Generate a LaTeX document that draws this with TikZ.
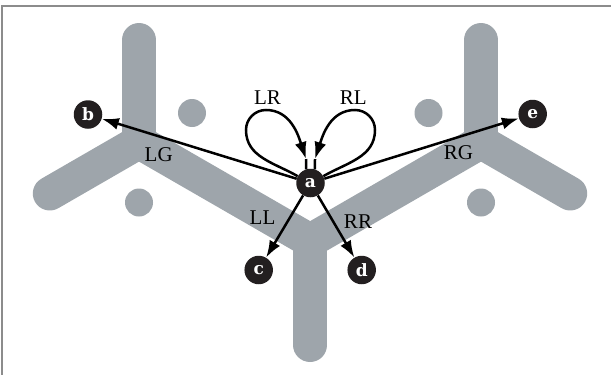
\documentclass[tikz,border=0pt]{standalone}
\usepackage{fontspec}
\setmainfont{Liberation Serif}
\newfontfamily\nodefont{DejaVu Serif}
\usetikzlibrary{arrows.meta}
\definecolor{trackgray}{RGB}{158,165,171}
\definecolor{nodeblack}{RGB}{35,31,32}
\definecolor{framegray}{RGB}{140,140,140}
\begin{document}
\begin{tikzpicture}[x=1pt,y=1pt,
  track/.style={draw=trackgray, line width=34pt, line cap=round},
  blob/.style={fill=trackgray},
  vert/.style={circle, fill=nodeblack, text=white, minimum size=28.5pt, inner sep=0pt,
    font=\nodefont\bfseries\fontsize{17}{17}\selectfont},
  wire/.style={draw=black, line width=2.5pt},
  conn/.style={wire, -{Latex[length=17pt,width=12pt]}},
  lab/.style={inner sep=0pt, font=\fontsize{21}{21}\selectfont}
]
\useasboundingbox (0,0) rectangle (611,-375);
% frame
\draw[framegray, line width=2pt] (1.7,-375) -- (1.7,-6) -- (611,-6);
% gray tracks
\draw[track] (139,-40) -- (139,-142);
\draw[track] (49.8,-193.5) -- (139,-142);
\draw[track] (139,-142) -- (310.2,-240.7);
\draw[track] (310.2,-240.7) -- (481,-142);
\draw[track] (481,-142) -- (570.2,-193.5);
\draw[track] (481,-40) -- (481,-142);
\draw[track] (310.2,-240.7) -- (310.2,-345);
\fill[blob] (192,-113) circle (14);
\fill[blob] (428.5,-113) circle (14);
\fill[blob] (139,-202.5) circle (14);
\fill[blob] (481,-202.5) circle (14);
% nodes
\node[vert] (a) at (310.5,-183) {a};
\node[vert] (b) at (88,-114.5) {b};
\node[vert] (c) at (258.7,-270) {c};
\node[vert] (d) at (361.7,-270) {d};
\node[vert] (e) at (532.7,-114) {e};
% edges
\draw[conn] (a) -- (b);
\draw[conn] (a) -- (e);
\draw[conn] (a) -- (c);
\draw[conn] (a) -- (d);
% loops
\coordinate (lrtip) at (306,-159);
\coordinate (rltip) at (315,-159);
\draw[conn] (a.152) to[out=150,in=270] (246,-130) to[out=90,in=180] (266,-110) to[out=0,in=108] (lrtip);
\draw[wire] (lrtip) -- (a.108);
\draw[conn] (a.28) to[out=30,in=270] (375,-130) to[out=90,in=0] (355,-110) to[out=180,in=72] (rltip);
\draw[wire] (rltip) -- (a.72);
% labels
\node[lab] (tLR) at (267.5,-97.3) {LR};
\node[lab] (tRL) at (353.3,-97.3) {RL};
\node[lab] (tLG) at (158.7,-155) {LG};
\node[lab] (tRG) at (458.5,-152.7) {RG};
\node[lab] (tLL) at (262.5,-218) {LL};
\node[lab] (tRR) at (358,-221.7) {RR};
\end{tikzpicture}
\end{document}
